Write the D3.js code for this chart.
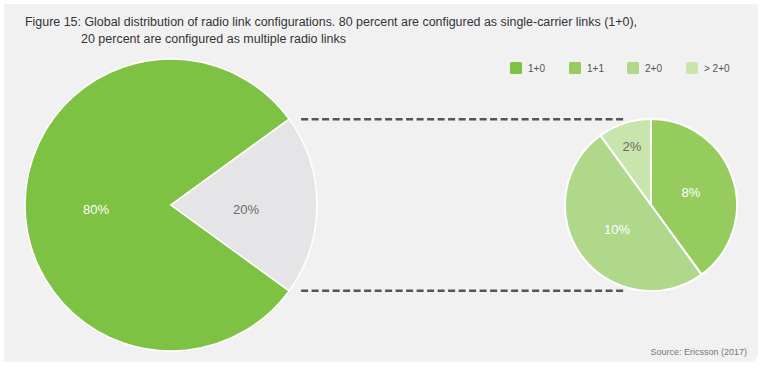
<!DOCTYPE html>
<html><head><meta charset="utf-8">
<script src="https://cdn.jsdelivr.net/npm/d3@7"></script>
<style>html,body{margin:0;padding:0;background:#fff;}svg{display:block;}</style>
</head><body><svg id="c" width="768" height="369"></svg>
<script>
const titleLines = ["Figure 15: Global distribution of radio link configurations. 80 percent are configured as single-carrier links (1+0),",
                    "20 percent are configured as multiple radio links"];
const mainCategories = ["Single-carrier", "Multiple"];
const mainValues = [80, 20];
const mainLabels = ["80%", "20%"];
const subCategories = ["1+1", "2+0", "> 2+0"];
const subValues = [8, 10, 2];
const subLabels = ["8%", "10%", "2%"];
const legendLabels = ["1+0", "1+1", "2+0", "> 2+0"];
const legendColors = ["#7dc242", "#96cc5e", "#b0d88a", "#c9e5ae"];
const source = "Source: Ericsson (2017)";

const svg = d3.select("#c");
const font = "'Liberation Sans', Arial, sans-serif";

// panel
svg.append("path")
  .attr("d", "M4,4 H758 V352 Q758,362 748,362 H4 Z")
  .attr("fill", "#f1f1f1");

// title
const t = svg.append("g").attr("font-family", font).attr("font-size", 12).attr("fill", "#333");
t.append("text").attr("x", 25).attr("y", 26).text(titleLines[0]).attr("textLength", 612).attr("lengthAdjust","spacingAndGlyphs");
t.append("text").attr("x", 81).attr("y", 43).text(titleLines[1]).attr("textLength", 265).attr("lengthAdjust","spacingAndGlyphs");

// big pie
const cx1 = 171, cy1 = 205, r1 = 146;
const pie1 = d3.pie().sort(null).value(d => d)
  .startAngle(126 * Math.PI / 180).endAngle((126 + 360) * Math.PI / 180);
const arcs1 = pie1(mainValues);
const arc1 = d3.arc().innerRadius(0).outerRadius(r1);
const mainColors = [legendColors[0], "#e5e5e7"];
const g1 = svg.append("g").attr("transform", `translate(${cx1},${cy1})`);
g1.selectAll("path").data(arcs1).join("path")
  .attr("d", arc1).attr("fill", (d, i) => mainColors[i])
  .attr("stroke", "#fff").attr("stroke-width", 1.5);
const labArc1 = d3.arc().innerRadius(75).outerRadius(75);
g1.selectAll("text").data(arcs1).join("text")
  .attr("transform", d => { const c = labArc1.centroid(d); return `translate(${c[0]},${c[1] + 4})`; })
  .attr("text-anchor", "middle").attr("dy", "0.35em")
  .attr("font-family", font).attr("font-size", 13)
  .attr("fill", (d, i) => i === 0 ? "#fff" : "#6a6a6a")
  .text((d, i) => mainLabels[i]);

// small pie
const cx2 = 651, cy2 = 205, r2 = 86;
const pie2 = d3.pie().sort(null).value(d => d);
const arcs2 = pie2(subValues);
const arc2 = d3.arc().innerRadius(0).outerRadius(r2);
const g2 = svg.append("g").attr("transform", `translate(${cx2},${cy2})`);
g2.selectAll("path").data(arcs2).join("path")
  .attr("d", arc2).attr("fill", (d, i) => legendColors[i + 1])
  .attr("stroke", "#fff").attr("stroke-width", 2);
const labR = [42, 42, 62];
g2.selectAll("text").data(arcs2).join("text")
  .attr("transform", (d, i) => { const c = d3.arc().innerRadius(labR[i]).outerRadius(labR[i]).centroid(d); return `translate(${c[0]},${c[1]})`; })
  .attr("text-anchor", "middle").attr("dy", "0.35em")
  .attr("font-family", font).attr("font-size", 13)
  .attr("fill", (d, i) => i === 2 ? "#6a6a6a" : "#fff")
  .text((d, i) => subLabels[i]);

// dashed connectors
const bigEdge = arcs1[1];
const pTop = [cx1 + r1 * Math.sin(bigEdge.startAngle), cy1 - r1 * Math.cos(bigEdge.startAngle)];
const pBot = [cx1 + r1 * Math.sin(bigEdge.endAngle), cy1 - r1 * Math.cos(bigEdge.endAngle)];
[[pTop[1]], [pBot[1]]].forEach(([y]) => {
  svg.append("line").attr("x1", pTop[0] + 12).attr("x2", 626)
    .attr("y1", y).attr("y2", y)
    .attr("stroke", "#555").attr("stroke-width", 2.5).attr("stroke-dasharray", "7,3.5");
});

// legend
const lx = [510, 569, 627, 686];
const lg = svg.append("g").attr("font-family", font).attr("font-size", 10).attr("fill", "#555");
legendLabels.forEach((l, i) => {
  lg.append("rect").attr("x", lx[i]).attr("y", 62).attr("width", 12).attr("height", 12).attr("rx", 1.5).attr("fill", legendColors[i]);
  lg.append("text").attr("x", lx[i] + 18).attr("y", 71.5).text(l);
});

// source
svg.append("text").attr("x", 747).attr("y", 355).attr("text-anchor", "end")
  .attr("font-family", font).attr("font-size", 9).attr("fill", "#777").text(source);
</script></body></html>
